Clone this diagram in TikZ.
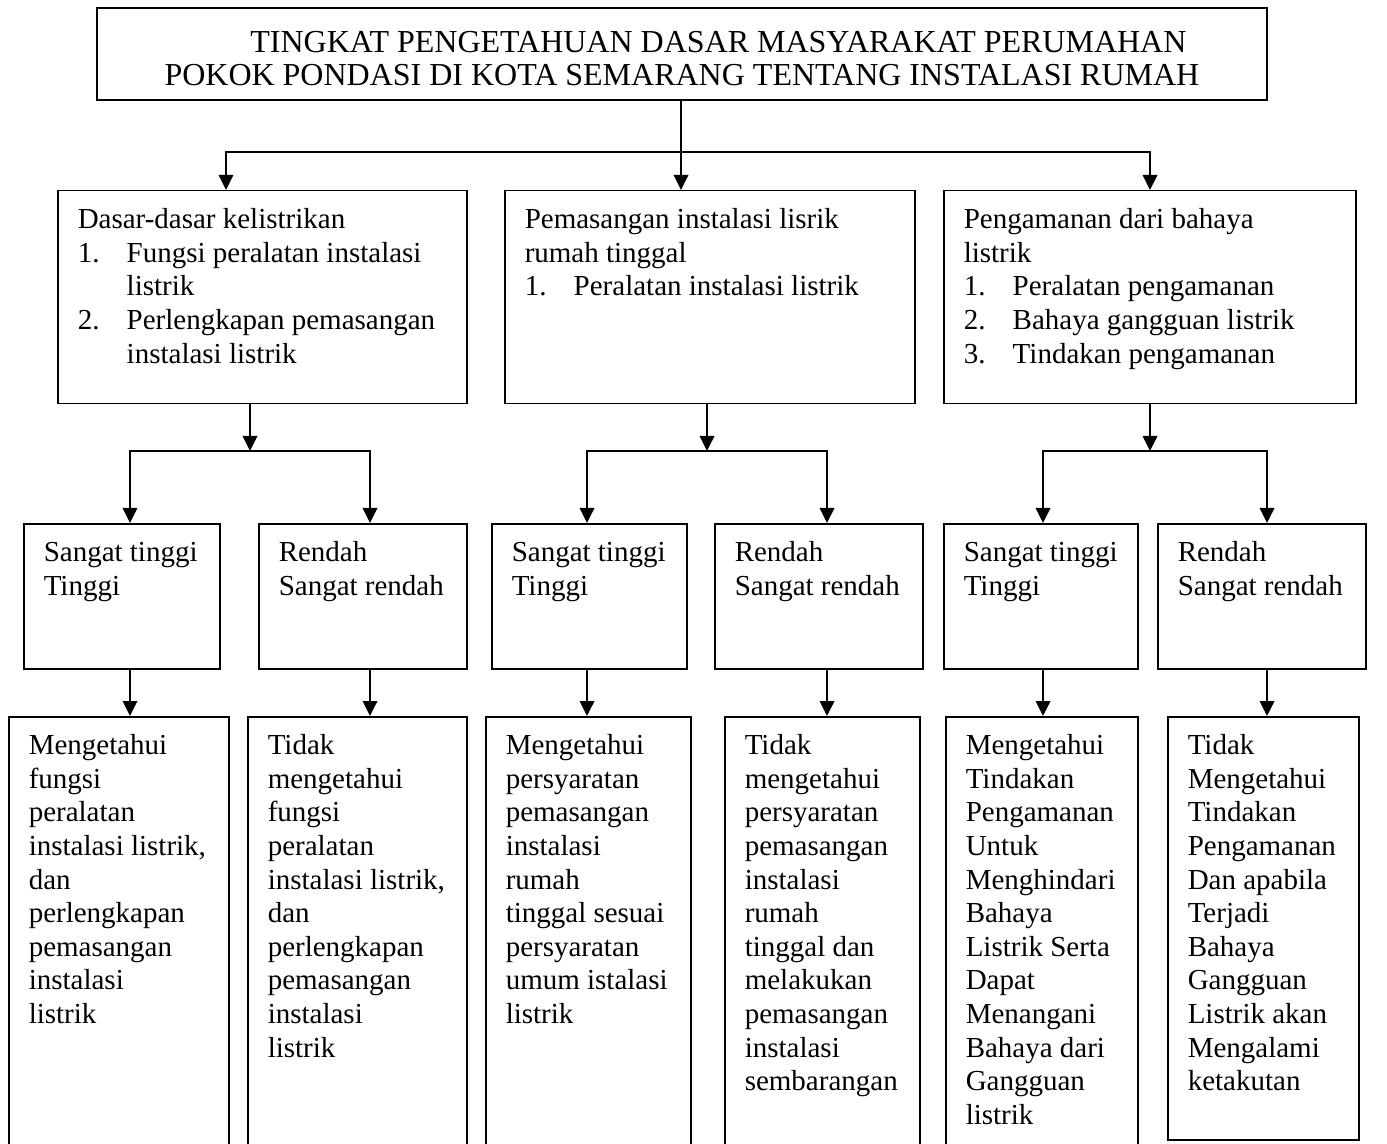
\documentclass[tikz,border=0pt]{standalone}
\usepackage{fontspec}
\setmainfont{Liberation Serif}
\usetikzlibrary{arrows.meta, positioning}

\begin{document}
\begin{tikzpicture}[x=0.5pt, y=-0.5pt,
    box/.style 2 args={draw, line width=0.75pt, anchor=north west, inner sep=0pt,
        font=\fontsize{14.5}{16.8}\selectfont,
        execute at begin node={\begin{minipage}[t][#2][t]{#1}\raggedright\leftskip=10pt\rule{0pt}{19pt}},
        execute at end node={\end{minipage}}},
    arrow/.style={-{Triangle[length=7.5pt, width=7.3pt]}, line width=0.75pt}
]
    \useasboundingbox (0,0) rectangle (1387,1144);
    \clip (0,0) rectangle (1387,1144);

    \node[draw, line width=0.75pt, minimum width=585pt, minimum height=46pt, inner sep=0pt,
        align=center, font=\fontsize{16}{16.5}\selectfont] (title) at (682,54)
        {\rule{0pt}{15pt}\hspace*{36.5pt}TINGKAT PENGETAHUAN DASAR MASYARAKAT PERUMAHAN\\
         POKOK PONDASI DI KOTA SEMARANG TENTANG INSTALASI RUMAH};

    \node[box={204.5pt}{106.5pt}] (dasar) at (57,190) {Dasar-dasar kelistrikan\\
        \makebox[24.5pt][l]{1.}Fungsi peralatan instalasi\\
        \hspace*{24.5pt}listrik\\
        \makebox[24.5pt][l]{2.}Perlengkapan pemasangan\\
        \hspace*{24.5pt}instalasi listrik};
    \node[box={205pt}{106.5pt}] (pasang) at (504,190) {Pemasangan instalasi lisrik\\
        rumah tinggal\\
        \makebox[24.5pt][l]{1.}Peralatan instalasi listrik};
    \node[box={206pt}{106.5pt}] (aman) at (943,190) {Pengamanan dari bahaya\\
        listrik\\
        \makebox[24.5pt][l]{1.}Peralatan pengamanan\\
        \makebox[24.5pt][l]{2.}Bahaya gangguan listrik\\
        \makebox[24.5pt][l]{3.}Tindakan pengamanan};

    \node[box={98pt}{72.5pt}] (st1) at (23,523) {Sangat tinggi\\Tinggi};
    \node[box={104pt}{72.5pt}] (rd1) at (258,523) {Rendah\\Sangat rendah};
    \node[box={97.5pt}{72.5pt}] (st2) at (491,523) {Sangat tinggi\\Tinggi};
    \node[box={104pt}{72.5pt}] (rd2) at (714,523) {Rendah\\Sangat rendah};
    \node[box={97pt}{72.5pt}] (st3) at (943,523) {Sangat tinggi\\Tinggi};
    \node[box={104pt}{72.5pt}] (rd3) at (1157,523) {Rendah\\Sangat rendah};

    \node[box={110pt}{230pt}] (tahu1) at (8,716) {Mengetahui\\fungsi\\peralatan\\
        instalasi listrik,\\dan\\perlengkapan\\pemasangan\\instalasi\\listrik};
    \node[box={109.5pt}{230pt}] (tidak1) at (247,716) {Tidak\\mengetahui\\fungsi\\peralatan\\
        instalasi listrik,\\dan\\perlengkapan\\pemasangan\\instalasi\\listrik};
    \node[box={102.5pt}{230pt}] (tahu2) at (485,716) {Mengetahui\\persyaratan\\pemasangan\\
        instalasi\\rumah\\tinggal sesuai\\persyaratan\\umum istalasi\\listrik};
    \node[box={97.5pt}{230pt}] (tidak2) at (724,716) {Tidak\\mengetahui\\persyaratan\\
        pemasangan\\instalasi\\rumah\\tinggal dan\\melakukan\\pemasangan\\instalasi\\sembarangan};
    \node[box={96pt}{230pt}] (tahu3) at (945,716) {Mengetahui\\Tindakan\\Pengamanan\\Untuk\\
        Menghindari\\Bahaya\\Listrik Serta\\Dapat\\Menangani\\Bahaya dari\\Gangguan\\listrik};
    \node[box={95.5pt}{211.5pt}] (tidak3) at (1167,716) {Tidak\\Mengetahui\\Tindakan\\
        Pengamanan\\Dan apabila\\Terjadi\\Bahaya\\Gangguan\\Listrik akan\\Mengalami\\ketakutan};

    \coordinate (jt) at (681,152);
    \coordinate (t1) at (226,0);
    \coordinate (t3) at (1150,0);
    \coordinate (j1) at (250,451);
    \coordinate (j2) at (707,451);
    \coordinate (j3) at (1150,451);
    \coordinate (c1) at (130,0);
    \coordinate (c2) at (370,0);
    \coordinate (c3) at (587,0);
    \coordinate (c4) at (827,0);
    \coordinate (c5) at (1043,0);
    \coordinate (c6) at (1267,0);

    \draw[arrow] (title.south -| jt) -- (pasang.north -| jt);
    \draw[arrow] (jt) -| (dasar.north -| t1);
    \draw[arrow] (jt) -| (aman.north -| t3);

    \draw[arrow] (dasar.south -| j1) -- (j1);
    \draw[arrow] (j1) -| (st1.north -| c1);
    \draw[arrow] (j1) -| (rd1.north -| c2);
    \draw[arrow] (pasang.south -| j2) -- (j2);
    \draw[arrow] (j2) -| (st2.north -| c3);
    \draw[arrow] (j2) -| (rd2.north -| c4);
    \draw[arrow] (aman.south -| j3) -- (j3);
    \draw[arrow] (j3) -| (st3.north -| c5);
    \draw[arrow] (j3) -| (rd3.north -| c6);

    \draw[arrow] (st1.south -| c1) -- (tahu1.north -| c1);
    \draw[arrow] (rd1.south -| c2) -- (tidak1.north -| c2);
    \draw[arrow] (st2.south -| c3) -- (tahu2.north -| c3);
    \draw[arrow] (rd2.south -| c4) -- (tidak2.north -| c4);
    \draw[arrow] (st3.south -| c5) -- (tahu3.north -| c5);
    \draw[arrow] (rd3.south -| c6) -- (tidak3.north -| c6);
\end{tikzpicture}
\end{document}
